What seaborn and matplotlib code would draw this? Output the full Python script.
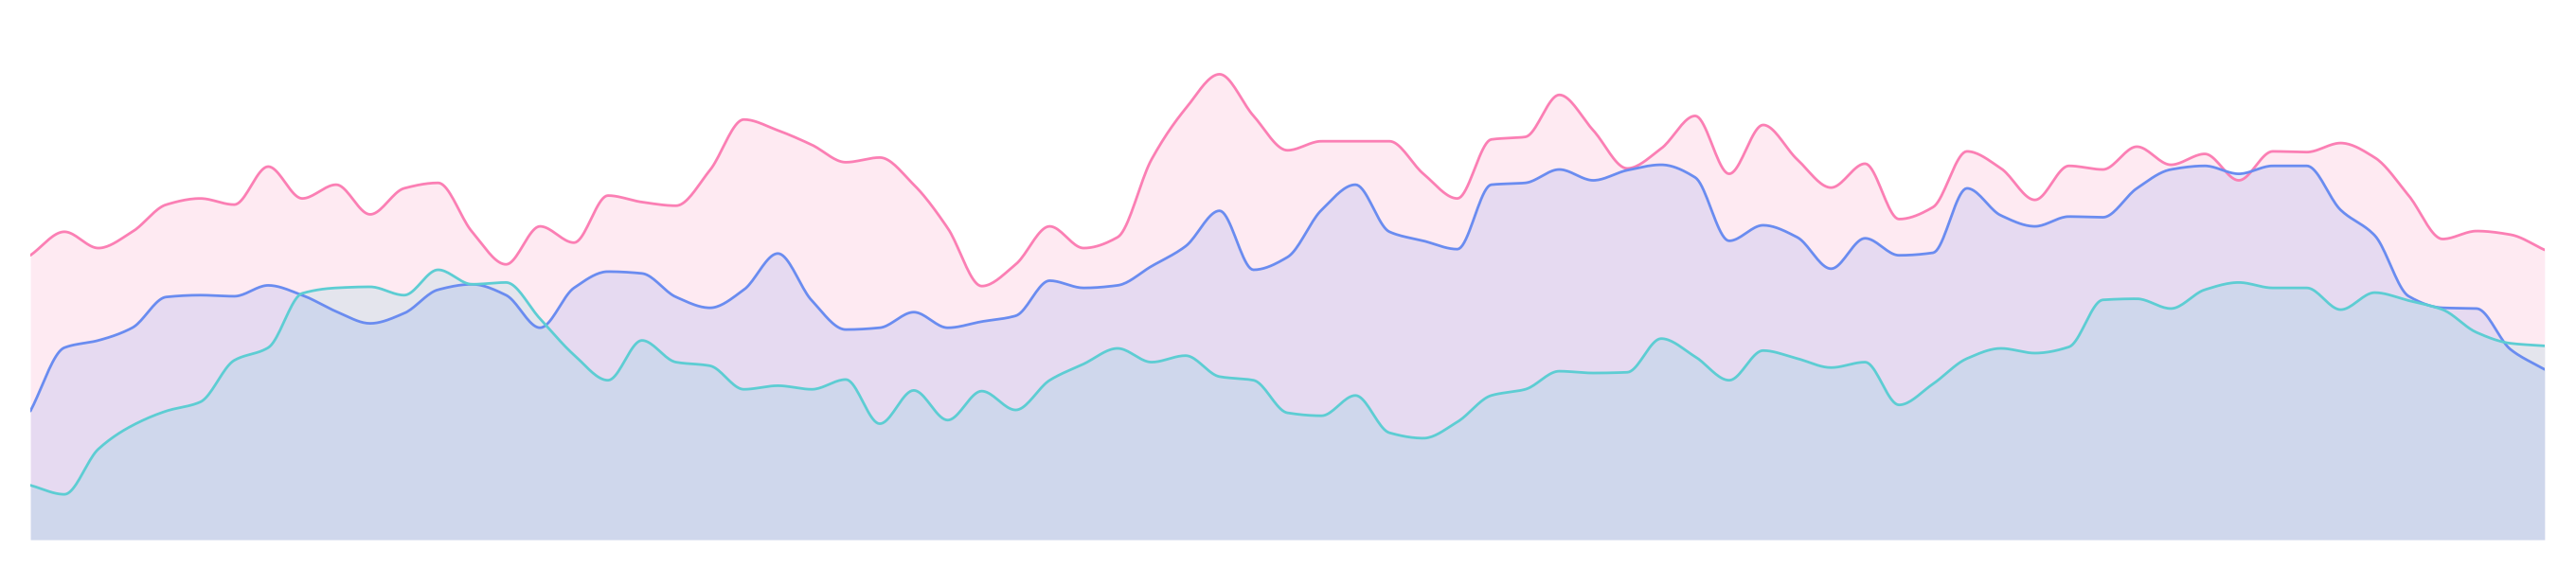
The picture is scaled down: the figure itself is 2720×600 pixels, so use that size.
import numpy as np
import pandas as pd
import matplotlib
matplotlib.use("Agg")
import matplotlib.pyplot as plt
import seaborn as sns

# values (75 points per series)
pink = [705, 640, 685, 640, 565, 548, 565, 460, 548, 510, 592, 520, 505, 640, 730, 625, 670, 540, 558, 568, 470, 330, 360, 400,
        448, 435, 510, 630, 790, 730, 625, 685, 655, 440, 300, 205, 320, 415, 390, 390, 390, 480, 548, 385, 378, 262, 360, 465, 410,
        320, 480, 345, 440, 518, 452, 605, 572, 418, 465, 552, 458, 468, 405, 455, 425, 498, 418, 420, 395, 435, 540, 660, 638, 648, 690]
blue = [1135, 960, 940, 905, 820, 815, 818, 788, 815, 860, 893, 865, 800, 785, 815, 905, 795, 750, 755, 820, 850, 800, 700, 830,
        910, 905, 862, 905, 888, 872, 775, 795, 788, 735, 680, 582, 745, 710, 580, 510, 640, 665, 688, 510, 505, 468, 498, 470, 455,
        490, 665, 622, 655, 742, 658, 705, 698, 520, 595, 625, 598, 600, 520, 468, 458, 480, 458, 458, 580, 650, 818, 850, 852, 965, 1020]
cyan = [1340, 1365, 1240, 1175, 1135, 1110, 995, 960, 810, 795, 792, 815, 745, 785, 780, 880, 980, 1050, 940, 1000, 1010, 1075, 1065, 1075,
        1048, 1170, 1078, 1160, 1080, 1132, 1050, 1005, 962, 1000, 982, 1040, 1050, 1140, 1148, 1092, 1195, 1210, 1165, 1092, 1075, 1025, 1030, 1028, 935,
        985, 1050, 968, 990, 1015, 1000, 1118, 1060, 990, 962, 975, 958, 828, 825, 852, 800, 780, 795, 795, 855, 808, 830, 855, 918, 948, 955]

series = {
    "A": [(1490 - v) / 10 for v in pink],
    "B": [(1490 - v) / 10 for v in blue],
    "C": [(1490 - v) / 10 for v in cyan],
}
colors = {"A": "#fb7fb4", "B": "#6a8cf0", "C": "#5dcdd3"}


def monotone(x, y, n=20):
    # monotone cubic (Fritsch-Carlson) for a smooth line through the points
    x = np.asarray(x, float)
    y = np.asarray(y, float)
    h = np.diff(x)
    d = np.diff(y) / h
    m = np.zeros_like(y)
    m[0], m[-1] = d[0], d[-1]
    for i in range(1, len(y) - 1):
        if d[i - 1] * d[i] > 0:
            m[i] = 2 / (1 / d[i - 1] + 1 / d[i])
    xs, ys = [], []
    for i in range(len(h)):
        t = np.linspace(0, 1, n, endpoint=False)
        h00 = 2 * t**3 - 3 * t**2 + 1
        h10 = t**3 - 2 * t**2 + t
        h01 = -2 * t**3 + 3 * t**2
        h11 = t**3 - t**2
        xs.append(x[i] + t * h[i])
        ys.append(h00 * y[i] + h10 * h[i] * m[i] + h01 * y[i + 1] + h11 * h[i] * m[i + 1])
    xs.append([x[-1]])
    ys.append([y[-1]])
    return np.concatenate(xs), np.concatenate(ys)


sns.set_style("white")
fig = plt.figure(figsize=(27.2, 6), dpi=100)
ax = fig.add_axes([0.0118, 0.05, 0.976, 0.95])

idx = np.arange(len(pink))
for name in ["A", "B", "C"]:
    xs, ys = monotone(idx, series[name])
    df = pd.DataFrame({"x": xs, "y": ys})
    ax.fill_between(xs, 0, ys, color=colors[name], alpha=0.16, lw=0)
    sns.lineplot(data=df, x="x", y="y", ax=ax, color=colors[name], lw=2, sort=False)

ax.set_xlim(0, len(pink) - 1)
ax.set_ylim(0, 149)
ax.set_axis_off()
fig.savefig("out.png", dpi=100)
